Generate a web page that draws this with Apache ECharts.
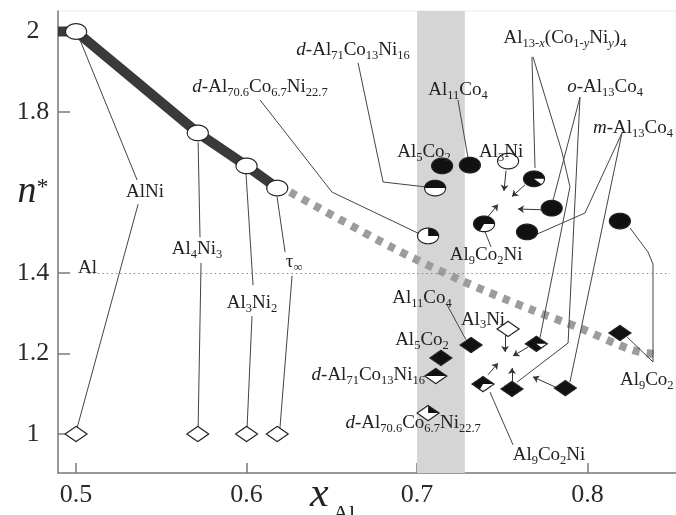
<!DOCTYPE html>
<html><head><meta charset="utf-8">
<script src="https://cdn.jsdelivr.net/npm/echarts@6/dist/echarts.min.js"></script>
<style>html,body{margin:0;padding:0;background:#fff}#c{width:676px;height:515px}</style>
</head><body><div id="c"></div>
<script>
// ---- axes ----
const xTicks = [0.5, 0.6, 0.7, 0.8];
const yTicks = [1, 1.2, 1.4, 1.8, 2];
const yLabelValues = [1, 1.2, 1.4, 1.6, 1.8, 2];
const yLabelTexts = ['1', '1.2', '1.4', '{ni|n}{st|*}', '1.8', '2'];

// ---- n* trend for Al-Ni (solid) and extrapolation (dotted) ----
const curveX = [0.4894, 0.5, 0.5357, 0.5714, 0.6, 0.618];
const curveN = [2.0, 2.0, 1.874, 1.748, 1.666, 1.611];
const trendX = [0.6255, 0.686, 0.725, 0.7675, 0.7956, 0.826, 0.8425];
const trendN = [1.601, 1.462, 1.383, 1.308, 1.263, 1.209, 1.197];

// ---- Al-Ni phases ----
const alniNames = ['AlNi', 'Al4Ni3', 'Al3Ni2', 'τ∞'];
const alniX = [0.5, 0.5714, 0.6, 0.618];
const alniN = [2.0, 1.748, 1.666, 1.611];
const alniBaseN = [1, 1, 1, 1];

// ---- Al-Co(-Ni) phases ----
const phaseNames = ['Al5Co2', 'Al11Co4', 'Al3Ni', 'd-Al71Co13Ni16', 'd-Al70.6Co6.7Ni22.7',
  'Al13-x(Co1-yNiy)4', 'o-Al13Co4', 'm-Al13Co4', 'Al9Co2Ni', 'Al9Co2'];
const circleX = [0.7147, 0.731, 0.7534, 0.7106, 0.7065, 0.7686, 0.779, 0.7645, 0.7393, 0.819];
const circleN = [1.666, 1.668, 1.678, 1.611, 1.492, 1.634, 1.561, 1.502, 1.522, 1.529];
const diamondX = [0.714, 0.7317, 0.7534, 0.711, 0.7065, 0.770, 0.7557, 0.787, 0.7387, 0.819];
const diamondN = [1.189, 1.221, 1.261, 1.144, 1.052, 1.224, 1.112, 1.114, 1.124, 1.251];
const coFraction = [1, 1, 0, 0.5, 0.25, 0.9, 1, 1, 0.667, 1];

// ---- band and reference level ----
const bandX = [0.7, 0.728];
const alLevel = 1.4;

// ---- annotation texts ----
const labelTexts = [
  '{n|AlNi}', '{n|Al}{s|4}{n|Ni}{s|3}', '{n|Al}{s|3}{n|Ni}{s|2}', '{n|τ}{s|∞}', '{n|Al}',
  '{i|d}{n|-Al}{s|71}{n|Co}{s|13}{n|Ni}{s|16}',
  '{i|d}{n|-Al}{s|70.6}{n|Co}{s|6.7}{n|Ni}{s|22.7}',
  '{n|Al}{s|11}{n|Co}{s|4}', '{n|Al}{s|5}{n|Co}{s|2}', '{n|Al}{s|3}{n|Ni}',
  '{n|Al}{s|13-}{si|x}{n|(Co}{s|1-}{si|y}{n|Ni}{si|y}{n|)}{s|4}',
  '{i|o}{n|-Al}{s|13}{n|Co}{s|4}', '{i|m}{n|-Al}{s|13}{n|Co}{s|4}',
  '{n|Al}{s|9}{n|Co}{s|2}{n|Ni}',
  '{n|Al}{s|11}{n|Co}{s|4}', '{n|Al}{s|5}{n|Co}{s|2}', '{n|Al}{s|3}{n|Ni}',
  '{i|d}{n|-Al}{s|71}{n|Co}{s|13}{n|Ni}{s|16}',
  '{i|d}{n|-Al}{s|70.6}{n|Co}{s|6.7}{n|Ni}{s|22.7}',
  '{n|Al}{s|9}{n|Co}{s|2}{n|Ni}', '{n|Al}{s|9}{n|Co}{s|2}'
];
const labelX = [0.5405, 0.571, 0.6032, 0.6279, 0.5012,
  0.6625, 0.6079, 0.724, 0.7041, 0.7493, 0.7868, 0.8103, 0.8032, 0.7405,
  0.7029, 0.7029, 0.7387, 0.7047, 0.6977, 0.7774, 0.819];
const labelN = [1.601, 1.460, 1.325, 1.427, 1.412,
  1.954, 1.862, 1.855, 1.700, 1.700, 1.984, 1.862, 1.760, 1.445,
  1.338, 1.234, 1.284, 1.147, 1.027, 0.948, 1.134];
const labelAlign = ['center', 'center', 'center', 'center', 'left',
  'center', 'center', 'center', 'center', 'center', 'center', 'center', 'left', 'center',
  'center', 'center', 'center', 'right', 'center', 'center', 'left'];

// ---- leader lines and arrows (data units) ----
const leaderLines = [
  [[0.5023, 1.979], [0.5358, 1.631]],
  [[0.5364, 1.571], [0.5006, 1.015]],
  [[0.5716, 1.725], [0.5727, 1.489]],
  [[0.5733, 1.425], [0.5716, 1.015]],
  [[0.5997, 1.646], [0.6038, 1.370]],
  [[0.6032, 1.293], [0.6003, 1.015]],
  [[0.6179, 1.589], [0.6226, 1.452]],
  [[0.6267, 1.393], [0.6196, 1.015]],
  [[0.6654, 1.922], [0.6801, 1.626], [0.7047, 1.614]],
  [[0.6079, 1.830], [0.6501, 1.601], [0.7006, 1.499]],
  [[0.724, 1.830], [0.7299, 1.686]],
  [[0.7674, 1.937], [0.7692, 1.661]],
  [[0.768, 1.937], [0.785, 1.701], [0.7897, 1.614], [0.7721, 1.239]],
  [[0.7956, 1.837], [0.7798, 1.581]],
  [[0.7956, 1.837], [0.7886, 1.226], [0.7587, 1.129]],
  [[0.8202, 1.748], [0.7985, 1.549], [0.7663, 1.489]],
  [[0.8202, 1.748], [0.7897, 1.129]],
  [[0.8249, 1.512], [0.8355, 1.452], [0.8384, 1.422], [0.8384, 1.179]],
  [[0.8232, 1.241], [0.8384, 1.179]],
  [[0.7399, 1.502], [0.7434, 1.465]],
  [[0.7176, 1.321], [0.7287, 1.234]],
  [[0.7428, 1.104], [0.7563, 0.973]]
];
const arrowLines = [
  [[0.7522, 1.654], [0.751, 1.604]],
  [[0.7633, 1.619], [0.7557, 1.590]],
  [[0.7739, 1.557], [0.7592, 1.559]],
  [[0.7416, 1.540], [0.7475, 1.570]],
  [[0.7516, 1.246], [0.7516, 1.204]],
  [[0.7651, 1.216], [0.7563, 1.194]],
  [[0.7416, 1.147], [0.7475, 1.176]],
  [[0.7557, 1.129], [0.7557, 1.164]],
  [[0.7809, 1.117], [0.768, 1.142]]
];

// ---------------------------------------------------------------
const SERIF = '"Liberation Serif","Times New Roman",serif';
const rich = {
  n: { fontSize: 19, fontFamily: SERIF, fill: '#222' },
  i: { fontSize: 19, fontFamily: SERIF, fontStyle: 'italic', fill: '#222' },
  s: { fontSize: 12.5, fontFamily: SERIF, fill: '#222', padding: [11, 0, 0, 0] },
  si: { fontSize: 12.5, fontFamily: SERIF, fontStyle: 'italic', fill: '#222', padding: [11, 0, 0, 0] }
};

const markerData = [];
alniX.forEach((x, i) => markerData.push([x, alniN[i], 0, 0]));
alniX.forEach((x, i) => markerData.push([x, alniBaseN[i], 1, 0]));
circleX.forEach((x, i) => markerData.push([x, circleN[i], 0, coFraction[i]]));
diamondX.forEach((x, i) => markerData.push([x, diamondN[i], 1, coFraction[i]]));

function renderMarker(params, api) {
  const c = api.coord([api.value(0), api.value(1)]);
  const kind = api.value(2), f = api.value(3);
  const rx = kind === 0 ? 10.5 : 11, ry = kind === 0 ? 7.8 : 7.6;
  const rad = t => {
    const co = Math.cos(t), si = Math.sin(t);
    return kind === 0 ? 1 / Math.sqrt(co * co / (rx * rx) + si * si / (ry * ry))
                      : 1 / (Math.abs(co) / rx + Math.abs(si) / ry);
  };
  const pt = a => { const t = a * Math.PI / 180; const r = rad(t); return [c[0] + r * Math.cos(t), c[1] + r * Math.sin(t)]; };
  const outline = [];
  for (let a = 0; a < 360; a += 2) outline.push(pt(a));
  const children = [{ type: 'polygon', shape: { points: outline }, style: { fill: '#fff' } }];
  if (f > 0.001) {
    let pts;
    if (f >= 0.999) pts = outline;
    else {
      pts = [[c[0], c[1]]];
      const a0 = Math.round(360 * (1 - f));
      for (let a = a0; a <= 360; a += 1) pts.push(pt(a));
    }
    children.push({ type: 'polygon', shape: { points: pts }, style: { fill: '#111' } });
  }
  children.push({ type: 'polygon', shape: { points: outline }, style: { fill: 'none', stroke: '#222', lineWidth: 1.2 } });
  return { type: 'group', children };
}

function renderLabel(params, api) {
  const c = api.coord([api.value(0), api.value(1)]);
  const i = params.dataIndex;
  return {
    type: 'text', x: c[0], y: c[1],
    style: { text: labelTexts[i], rich: rich, align: labelAlign[i], verticalAlign: 'middle',
      fontFamily: SERIF, fontSize: 19, fill: '#222' }
  };
}

const chart = echarts.init(document.getElementById('c'));
chart.setOption({
  animation: false,
  backgroundColor: '#fff',
  grid: { left: 58, right: 0, top: 11, bottom: 42, show: true, borderColor: '#ececec', borderWidth: 1 },
  xAxis: {
    type: 'value', min: 0.4894, max: 0.8519,
    axisLine: { show: true, lineStyle: { color: '#7a7a7a', width: 1.5 } },
    axisTick: { show: true, inside: true, length: 10, customValues: xTicks, lineStyle: { color: '#7a7a7a', width: 1.5 } },
    axisLabel: { customValues: xTicks, formatter: v => String(+(+v).toFixed(2)), fontSize: 26, fontFamily: SERIF, color: '#2a2a2a', margin: 9 },
    splitLine: { show: false }
  },
  yAxis: {
    type: 'value', min: 0.9031, max: 2.0509,
    axisLine: { show: true, lineStyle: { color: '#7a7a7a', width: 1.5 } },
    axisTick: { show: true, inside: true, length: 12, customValues: yTicks, lineStyle: { color: '#7a7a7a', width: 1.5 } },
    axisLabel: {
      customValues: yLabelValues,
      formatter: v => { const k = yLabelValues.findIndex(u => Math.abs(u - v) < 1e-6); return k >= 0 ? yLabelTexts[k] : ''; },
      fontSize: 26, fontFamily: SERIF, color: '#2a2a2a', align: 'center', margin: 25,
      rich: {
        ni: { fontSize: 38, fontFamily: SERIF, fontStyle: 'italic', color: '#222' },
        st: { fontSize: 24, fontFamily: SERIF, color: '#222', padding: [0, 0, 10, 0] }
      }
    },
    splitLine: { show: false }
  },
  graphic: [
    { type: 'text', left: 310, top: 474, z: 10, style: { text: 'x', font: 'italic 42px ' + SERIF, fill: '#222' } },
    { type: 'text', left: 333, top: 503, z: 10, style: { text: 'Al', font: '22px ' + SERIF, fill: '#222' } }
  ],
  series: [
    {
      type: 'line', data: [], z: 0, silent: true,
      markArea: { silent: true, itemStyle: { color: '#d5d5d5' }, data: [[{ xAxis: bandX[0] }, { xAxis: bandX[1] }]] }
    },
    {
      type: 'line', z: 1, silent: true, data: [],
      markLine: { silent: true, symbol: 'none', label: { show: false },
        lineStyle: { type: [1.5, 3], color: '#888', width: 1 },
        data: [[{ coord: [0.5075, alLevel] }, { coord: [0.8484, alLevel] }]] }
    },
    {
      type: 'line', z: 2, silent: true, showSymbol: false, smooth: 0.3,
      data: trendX.map((x, i) => [x, trendN[i]]),
      lineStyle: { color: '#9c9c9c', width: 8, type: [7, 7], cap: 'butt' }
    },
    {
      type: 'line', z: 2, silent: true, showSymbol: false, smooth: false,
      data: curveX.map((x, i) => [x, curveN[i]]),
      lineStyle: { color: '#3a3a3a', width: 10, cap: 'butt', join: 'round' }
    },
    {
      type: 'lines', coordinateSystem: 'cartesian2d', polyline: true, z: 3, silent: true,
      lineStyle: { color: '#444', width: 1, opacity: 1 },
      data: leaderLines.map(c => ({ coords: c }))
    },
    {
      type: 'lines', coordinateSystem: 'cartesian2d', z: 3, silent: true,
      symbol: ['none', 'arrow'], symbolSize: 6,
      lineStyle: { color: '#333', width: 1, opacity: 1 },
      data: arrowLines.map(c => ({ coords: c }))
    },
    {
      type: 'custom', z: 5, silent: true, clip: false,
      renderItem: renderMarker, encode: { x: 0, y: 1 },
      data: markerData
    },
    {
      type: 'custom', z: 6, silent: true, clip: false,
      renderItem: renderLabel, encode: { x: 0, y: 1 },
      data: labelX.map((x, i) => [x, labelN[i]])
    }
  ]
});
</script>
</body></html>
